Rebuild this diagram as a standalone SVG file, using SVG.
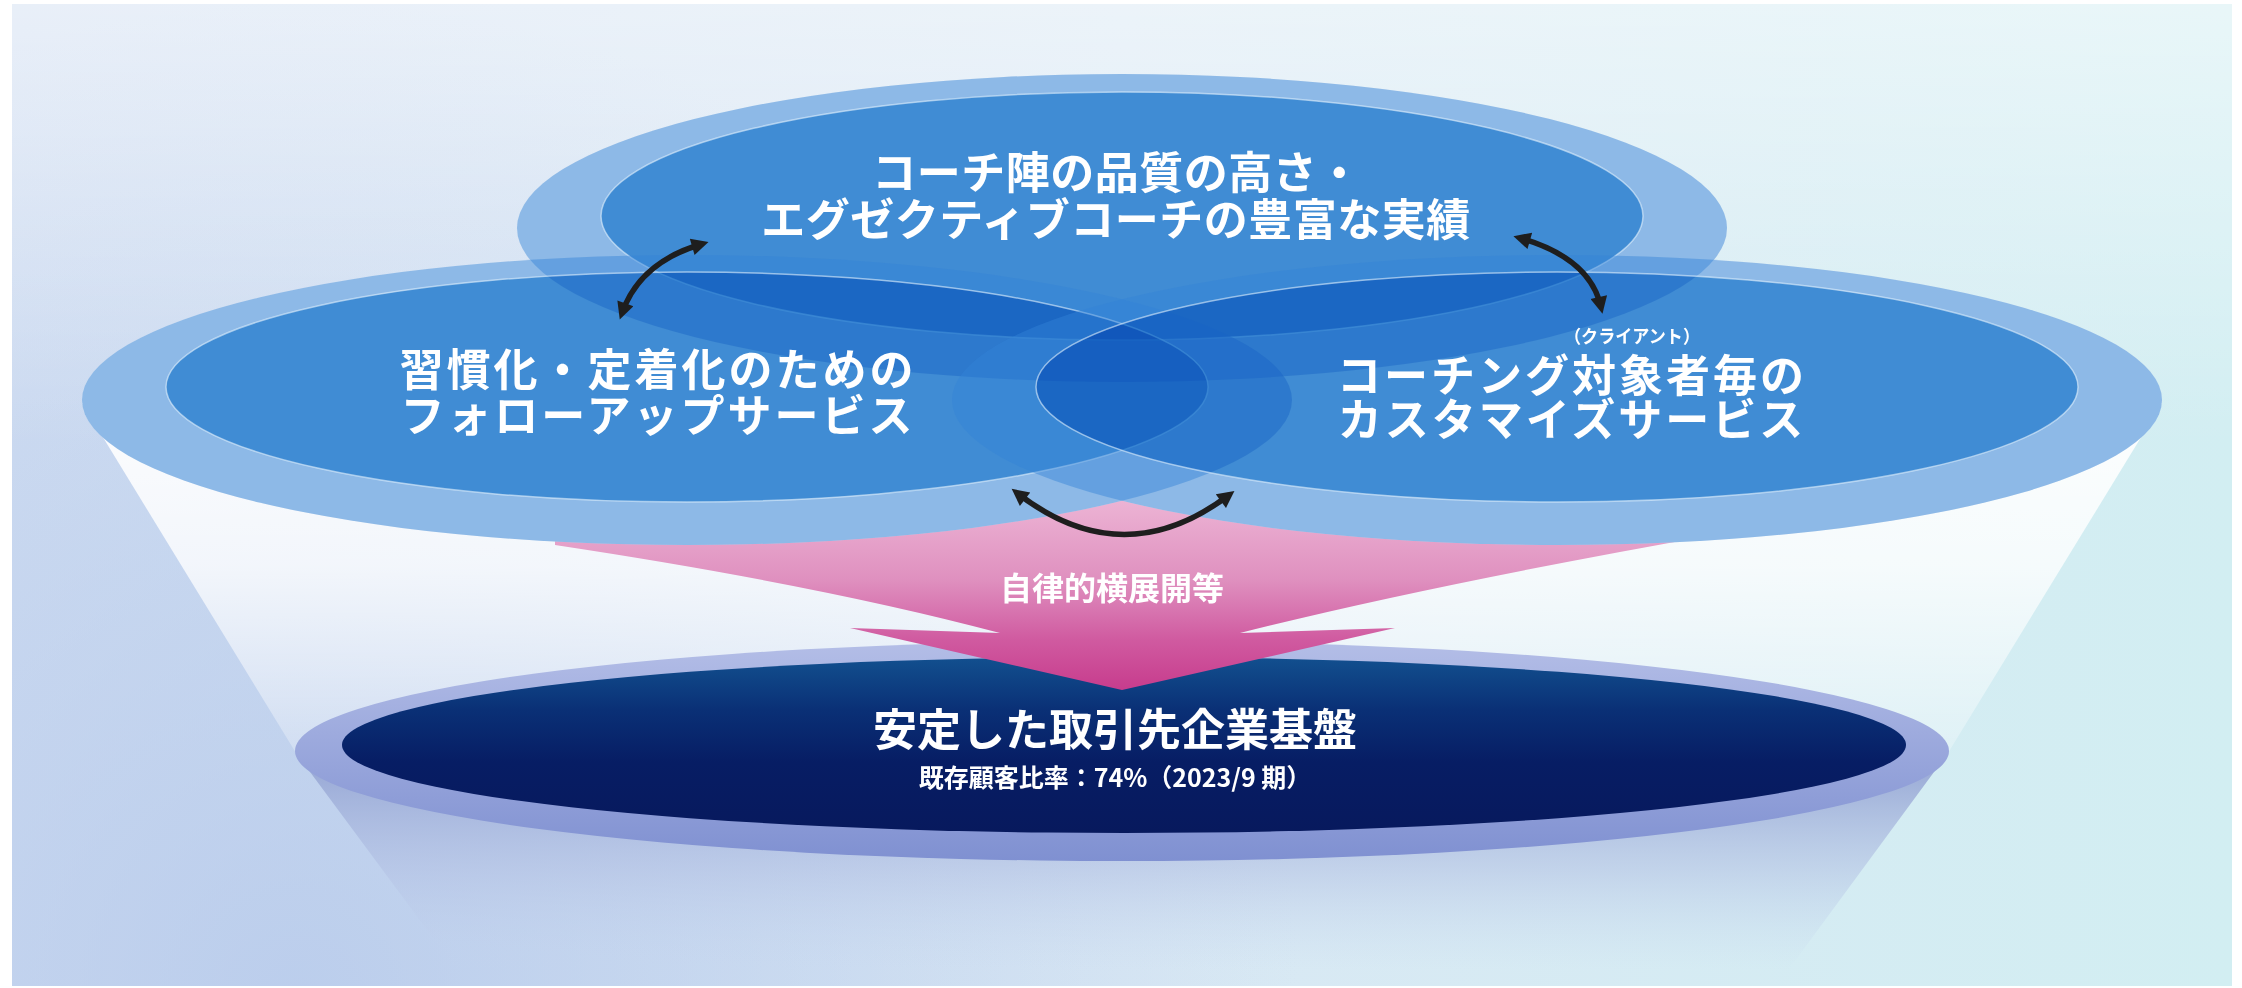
<svg xmlns="http://www.w3.org/2000/svg" width="2242" height="988" viewBox="0 0 2242 988">
<defs>
  <linearGradient id="bgH" x1="0" y1="0" x2="1" y2="0">
    <stop offset="0" stop-color="#d2dff2"/>
    <stop offset="0.5" stop-color="#d9e8f4"/>
    <stop offset="1" stop-color="#d2eef2"/>
  </linearGradient>
  <linearGradient id="bgV" x1="0" y1="0" x2="0" y2="1">
    <stop offset="0" stop-color="#ffffff" stop-opacity="0.5"/>
    <stop offset="0.45" stop-color="#ffffff" stop-opacity="0"/>
  </linearGradient>
  <radialGradient id="bgBL" gradientUnits="userSpaceOnUse" cx="300" cy="1000" r="1000">
    <stop offset="0" stop-color="#b3c7ea" stop-opacity="0.75"/>
    <stop offset="1" stop-color="#b3c7ea" stop-opacity="0"/>
  </radialGradient>
  <linearGradient id="funnelG" gradientUnits="userSpaceOnUse" x1="0" y1="400" x2="0" y2="770">
    <stop offset="0" stop-color="#ffffff" stop-opacity="0.95"/>
    <stop offset="0.45" stop-color="#ffffff" stop-opacity="0.78"/>
    <stop offset="1" stop-color="#ffffff" stop-opacity="0.2"/>
  </linearGradient>
  <linearGradient id="coneG" gradientUnits="userSpaceOnUse" x1="0" y1="770" x2="0" y2="970">
    <stop offset="0" stop-color="#98a8d5" stop-opacity="0.95"/>
    <stop offset="0.5" stop-color="#b2c0e3" stop-opacity="0.55"/>
    <stop offset="1" stop-color="#c6d6ef" stop-opacity="0"/>
  </linearGradient>
  <linearGradient id="baseRing" gradientUnits="userSpaceOnUse" x1="0" y1="640" x2="0" y2="862">
    <stop offset="0" stop-color="#b4bee7"/>
    <stop offset="1" stop-color="#7f90d1"/>
  </linearGradient>
  <linearGradient id="baseCore" gradientUnits="userSpaceOnUse" x1="0" y1="657" x2="0" y2="833">
    <stop offset="0" stop-color="#12508f"/>
    <stop offset="0.3" stop-color="#0a3076"/>
    <stop offset="0.6" stop-color="#071d64"/>
    <stop offset="1" stop-color="#07195d"/>
  </linearGradient>
  <linearGradient id="pinkG" gradientUnits="userSpaceOnUse" x1="0" y1="490" x2="0" y2="690">
    <stop offset="0" stop-color="#eeb8d7"/>
    <stop offset="0.45" stop-color="#df90bf"/>
    <stop offset="0.75" stop-color="#d05aa0"/>
    <stop offset="1" stop-color="#c73c8d"/>
  </linearGradient>
  <marker id="head" viewBox="0 0 10 10" refX="6" refY="5" markerWidth="20" markerHeight="17" markerUnits="userSpaceOnUse" orient="auto-start-reverse">
    <path d="M0,0 L10,5 L0,10 Z" fill="#1e1e1e"/>
  </marker>
</defs>
<style>
  .ring { fill: rgb(50,130,215); fill-opacity: 0.45; }
  .core { fill: rgb(115,193,234); mix-blend-mode: multiply; }
  .edge { fill: none; stroke: #e2f1fd; stroke-opacity: 0.6; stroke-width: 1.5; }
  .lbl { font-family: "Noto Sans CJK JP", "Noto Sans", sans-serif; font-weight: 700; fill: #ffffff; text-anchor: middle; }
  .big { font-size: 44px; }
  .side { font-size: 44px; letter-spacing: 3px; }
  .conn { fill: none; stroke: #1e1e1e; stroke-width: 5.5; marker-start: url(#head); marker-end: url(#head); }
</style>

<g id="background">
  <rect width="2242" height="988" fill="#ffffff"/>
  <rect x="12" y="4" width="2220" height="982" fill="url(#bgH)"/>
  <rect x="12" y="4" width="2220" height="982" fill="url(#bgBL)"/>
  <rect x="12" y="4" width="2220" height="982" fill="url(#bgV)"/>
</g>

<g id="funnel">
  <path d="M82,403 L296,753 L1948,753 L2162,403 Z" fill="url(#funnelG)"/>
</g>

<g id="base-cone">
  <path d="M296,753 L470,988 L1775,988 L1948,753 Z" fill="url(#coneG)"/>
</g>

<g id="node-base">
  <ellipse cx="1122" cy="751" rx="827" ry="110" fill="url(#baseRing)"/>
  <ellipse cx="1124" cy="745" rx="782" ry="88" fill="url(#baseCore)"/>
  <text class="lbl big" x="1115" y="746">安定した取引先企業基盤</text>
  <text class="lbl" x="1115" y="787" font-size="25">既存顧客比率：74%（2023/9 期）</text>
</g>

<g id="flow-arrow">
  <path d="M555,470 L1725,470 L1725,533 Q1430,585 1240,633 L1395,628 L1122,690 L850,628 L1000,633 Q820,585 555,545 Z" fill="url(#pinkG)"/>
  <text class="lbl" x="1112" y="600" font-size="32">自律的横展開等</text>
</g>

<g id="ellipse-backing">
  <ellipse cx="1122" cy="228" rx="605" ry="154" fill="#d8e6f4"/>
  <ellipse cx="687" cy="400" rx="605" ry="145" fill="#d8e6f4"/>
  <ellipse cx="1557" cy="400" rx="605" ry="145" fill="#d8e6f4"/>
</g>

<g id="node-top">
  <ellipse class="ring" cx="1122" cy="228" rx="605" ry="154"/>
  <ellipse class="core" cx="1122" cy="216" rx="521" ry="124"/>
  <ellipse class="edge" cx="1122" cy="216" rx="521" ry="124"/>
</g>

<g id="node-left">
  <ellipse class="ring" cx="687" cy="400" rx="605" ry="145"/>
  <ellipse class="core" cx="687" cy="387" rx="521" ry="115"/>
  <ellipse class="edge" cx="687" cy="387" rx="521" ry="115"/>
</g>

<g id="node-right">
  <ellipse class="ring" cx="1557" cy="400" rx="605" ry="145"/>
  <ellipse class="core" cx="1557" cy="387" rx="521" ry="115"/>
  <ellipse class="edge" cx="1557" cy="387" rx="521" ry="115"/>
</g>

<g id="node-labels">
  <text class="lbl big" x="1117" y="189" letter-spacing="0.5">コーチ陣の品質の高さ・</text>
  <text class="lbl big" x="1116" y="236" letter-spacing="0.5">エグゼクティブコーチの豊富な実績</text>
  <text class="lbl side" x="658" y="386">習慣化・定着化のための</text>
  <text class="lbl side" x="658" y="432">フォローアップサービス</text>
  <text class="lbl" x="1632" y="343" font-size="18" textLength="136" lengthAdjust="spacingAndGlyphs">（クライアント）</text>
  <text class="lbl side" x="1572" y="392">コーチング対象者毎の</text>
  <text class="lbl side" x="1572" y="436">カスタマイズサービス</text>
</g>

<g id="connectors">
  <path class="conn" d="M702,244 Q640,262 622,313"/>
  <path class="conn" d="M1520,238 Q1590,258 1601,307"/>
  <path class="conn" d="M1017,493 Q1123,575 1229,495"/>
</g>
</svg>
